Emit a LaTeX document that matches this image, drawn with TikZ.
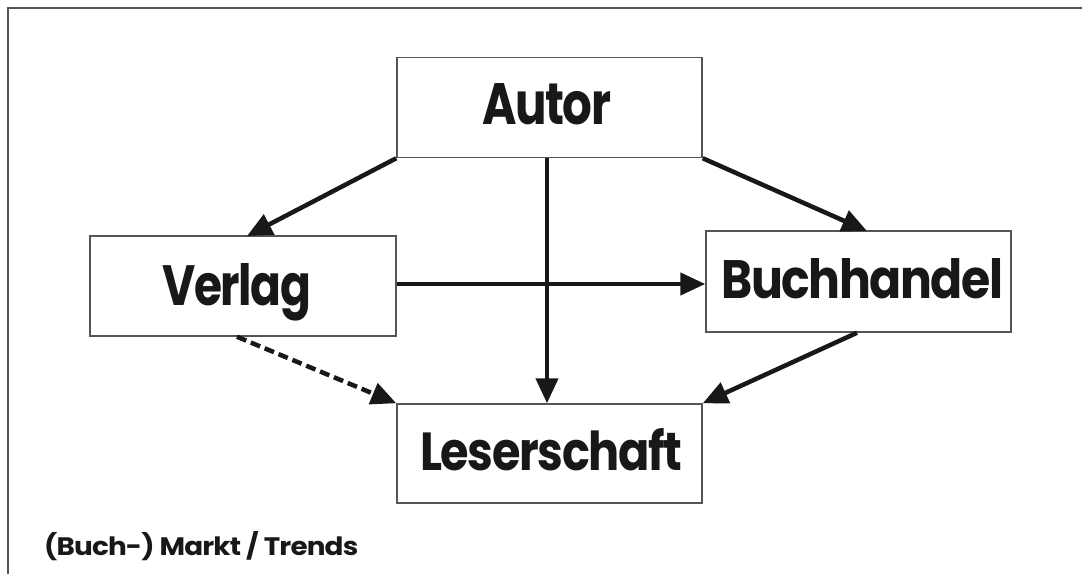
\documentclass[tikz,border=0pt]{standalone}
\usepackage{fontspec}
\setmainfont{Poppins}[BoldFeatures={LetterSpace=-3}]
\usepackage{graphicx}
\usetikzlibrary{arrows.meta}
\definecolor{ink}{HTML}{1A1717}
\definecolor{frame}{HTML}{555555}
\newcommand{\fitlbl}[3]{\resizebox{#1pt}{#2pt}{\bfseries #3}}
\tikzset{
  box/.style={draw=frame, line width=1.5pt, fill=white, rectangle, inner sep=0pt},
  lbl/.style={anchor=base west, inner sep=0pt, text=ink},
  conn/.style={draw=ink, line width=4.5pt, -{Triangle[length=25pt,width=22pt]}},
  dconn/.style={conn, dash pattern=on 10pt off 5pt}
}
\begin{document}
\begin{tikzpicture}[x=1pt,y=-1pt]
\useasboundingbox (0,0) rectangle (1082,574);
\fill[white] (0,0) rectangle (1082,574);
\draw[frame, line width=1.5pt] (8,574) -- (8,8) -- (1082,8);

\node[box, minimum width=305pt, minimum height=100pt] (autor) at (549.5,107.5) {};
\node[box, minimum width=306pt, minimum height=100pt] (verlag) at (243,286) {};
\node[box, minimum width=305pt, minimum height=101pt] (buch) at (858.5,281.5) {};
\node[box, minimum width=305pt, minimum height=99pt] (leser) at (549.5,453.5) {};

\node[lbl] (tautor) at (482,124) {\fitlbl{129}{41}{Autor}};
\node[lbl] (tverlag) at (162,305) {\fitlbl{149}{42}{Verlag}};
\node[lbl] (tbuch) at (721,298) {\fitlbl{282}{40}{Buchhandel}};
\node[lbl] (tleser) at (420,470) {\fitlbl{262}{42}{Leserschaft}};
\node[lbl] (markt) at (44,555) {\fitlbl{314}{24}{(Buch-) Markt / Trends}};

\draw[conn] (autor.south west) -- (247,236);
\draw[conn] (autor.south east) -- (867,231);
\draw[conn] (autor.south -| 547,0) -- (leser.north -| 547,0);
\draw[conn] (verlag.east |- 0,284) -- (buch.west |- 0,284);
\draw[dconn] (verlag.south -| 237,0) -- (leser.north west);
\draw[conn] (buch.south -| 857,0) -- (leser.north east);
\end{tikzpicture}
\end{document}
